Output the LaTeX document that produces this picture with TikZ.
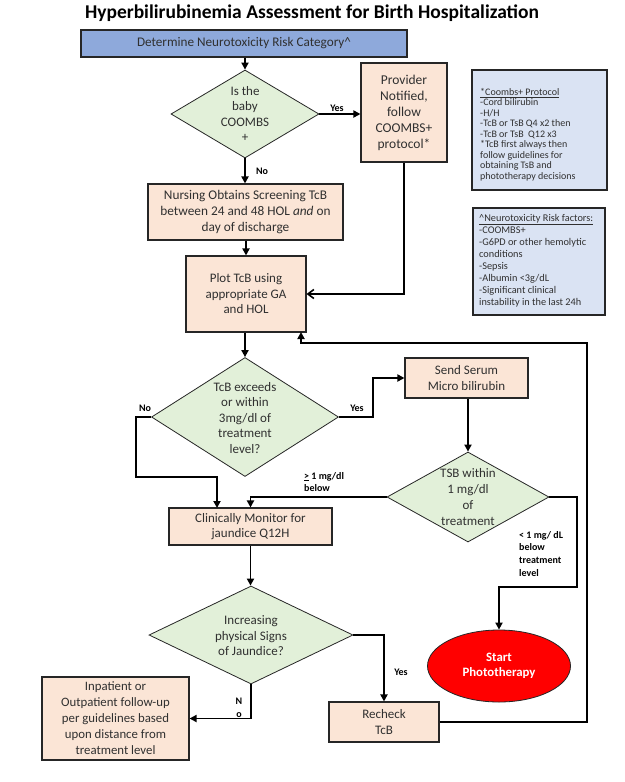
\documentclass[tikz,border=0pt]{standalone}
\usepackage{fontspec}
\setmainfont{Carlito}
\usetikzlibrary{shapes.geometric,arrows.meta}
\definecolor{hdblue}{HTML}{8EA9DB}
\definecolor{sideblue}{HTML}{DAE3F3}
\definecolor{peach}{HTML}{FBE5D6}
\definecolor{dgreen}{HTML}{E2F0D9}
\definecolor{boxline}{HTML}{262626}
\definecolor{txtcol}{HTML}{303030}
\newcommand{\myfs}[2]{\fontsize{#1}{#2}\selectfont}
\begin{document}
\begin{tikzpicture}[x=1pt,y=-1pt,
  box/.style={draw=boxline, line width=1.1pt, fill=peach, align=center, inner sep=0pt, text=txtcol, font=\myfs{13}{15.5}},
  side/.style={draw=boxline, line width=1.1pt, fill=sideblue, inner sep=0pt},
  sidetxt/.style={anchor=north west, align=left, inner sep=0pt, text=txtcol},
  dia/.style={diamond, draw=boxline, line width=0.8pt, fill=dgreen, inner sep=0pt},
  dtxt/.style={align=center, inner sep=0pt, text=txtcol, font=\myfs{13}{15.5}},
  arr/.style={-{Triangle[length=7pt,width=7pt]}, line width=1.8pt},
  arrb/.style={-{Straight Barb[length=6pt,width=9pt,line width=1.6pt]}, line width=1.8pt},
  lbl/.style={font=\bfseries\myfs{10}{12.7}, align=left, inner sep=0pt}]
\useasboundingbox (0,0) rectangle (624,782);
\fill[white] (0,0) rectangle (624,782);

% title
\node[font=\bfseries\myfs{19.5}{22}] (title) at (312,13) {Hyperbilirubinemia Assessment for Birth Hospitalization};

% nodes
\node[box, fill=hdblue, minimum width=326pt, minimum height=27pt, font=\myfs{13.2}{15}] (blue) at (244,43.5) {Determine Neurotoxicity Risk Category\^{}};
\node[dia, minimum width=148pt, minimum height=88pt] (d1) at (245,114) {};
\node[dtxt] (d1t) at (d1) {Is the\\baby\\COOMBS\\+};
\node[box, minimum width=86pt, minimum height=99pt, font=\myfs{13.5}{16}] (prov) at (404,112.5) {Provider\\Notified,\\follow\\COOMBS+\\protocol*};

\node[side, minimum width=135pt, minimum height=120pt] (cbox) at (539.5,130) {};
\node[sidetxt, font=\myfs{10}{10.5}] (ctxt) at (480,88) {\underline{*Coombs+ Protocol}\\-Cord bilirubin\\-H/H\\-TcB or TsB Q4 x2 then\\-TcB or TsB\ \ Q12 x3\\*TcB first always then\\follow guidelines for\\obtaining TsB and\\phototherapy decisions};

\node[side, minimum width=132pt, minimum height=107pt] (rbox) at (539,261.5) {};
\node[sidetxt, font=\myfs{10.3}{12}] (rtxt) at (479,214) {\underline{\^{}Neurotoxicity Risk factors:}\\-COOMBS+\\-G6PD or other hemolytic\\conditions\\-Sepsis\\-Albumin <3g/dL\\-Significant clinical\\instability in the last 24h};

\node[box, minimum width=195pt, minimum height=56pt, font=\myfs{13.3}{16}] (nurse) at (245.5,212) {Nursing Obtains Screening TcB\\between 24 and 48 HOL \textit{and} on\\day of discharge};
\node[box, minimum width=120pt, minimum height=76pt] (plot) at (246,294) {Plot TcB using\\appropriate GA\\and HOL};

\node[dia, minimum width=187pt, minimum height=119pt] (d2) at (245,417) {};
\node[dtxt] (d2t) at (245,418) {TcB exceeds\\or within\\3mg/dl of\\treatment\\level?};

\node[box, minimum width=123pt, minimum height=40pt] (send) at (466.5,378) {Send Serum\\Micro bilirubin};

\node[dia, minimum width=162pt, minimum height=90pt] (d3) at (468,497) {};
\node[dtxt, font=\myfs{13}{16}] (d3t) at (468,497) {TSB within\\1 mg/dl\\of\\treatment};

\node[box, minimum width=163pt, minimum height=37pt] (mon) at (250.5,526.5) {Clinically Monitor for\\jaundice Q12H};

\node[dia, minimum width=204pt, minimum height=98pt] (d4) at (251,635) {};
\node[dtxt] (d4t) at (251,636) {Increasing\\physical Signs\\of Jaundice?};

\node[ellipse, draw=boxline, line width=0.8pt, fill=red, minimum width=143pt, minimum height=72pt, inner sep=0pt, text=white, align=center, font=\bfseries\myfs{12.8}{15}] (ell) at (499,666) {Start\\Phototherapy};

\node[box, minimum width=110pt, minimum height=40pt] (rech) at (384,722) {Recheck\\TcB};
\node[box, minimum width=147pt, minimum height=83pt, font=\myfs{12.8}{16}] (foll) at (115.5,718.5) {Inpatient or\\Outpatient follow-up\\per guidelines based\\upon distance from\\treatment level};

% helper coordinates
\coordinate (c1) at (136,477);
\coordinate (m1) at (217,508);
\coordinate (c3) at (577,587);
\coordinate (c4) at (587,343);
\coordinate (p1) at (301,332);

% connectors
\draw[arr] (blue.south -| d1.north) -- (d1.north);
\draw[arr] (d1.east) -- (d1.east -| prov.west);
\draw[arr] (d1.south) -- (nurse.north -| d1.south);
\draw[arrb] (prov.south) |- (plot.east);
\draw[arr] (nurse.south -| plot.north) -- (plot.north);
\draw[arr] (plot.south -| d2.north) -- (d2.north);
\draw[arr] (d2.west) -| (c1) -| (m1);
\draw[arr] (d2.east) -- ++(34,0) |- (send.west);
\draw[arr] (send.south -| d3.north) -- (d3.north);
\draw[arr] (d3.west) -| (mon.north);
\draw[arr] (d3.east) -| (c3) -| (ell.north);
\draw[arr] (mon.south) -- (mon.south |- d4.north);
\draw[arr] (d4.east) -| (rech.north);
\draw[arr] (d4.south) |- (foll.east);
\draw[arr] (rech.east) -| (c4) -| (p1);

% labels
\node[lbl] (l1) at (337,108) {Yes};
\node[lbl] (l2) at (262,171) {No};
\node[lbl] (l3) at (145,408) {No};
\node[lbl] (l4) at (357,408) {Yes};
\node[lbl, anchor=west] (l5) at (304,482) {\underline{>} 1 mg/dl\\below};
\node[lbl, anchor=north west] (l6) at (519,531) {< 1 mg/ dL\\below\\treatment\\level};
\node[lbl] (l7) at (401,672) {Yes};
\node[lbl, align=center] (l8) at (239,708) {N\\o};
\end{tikzpicture}
\end{document}
